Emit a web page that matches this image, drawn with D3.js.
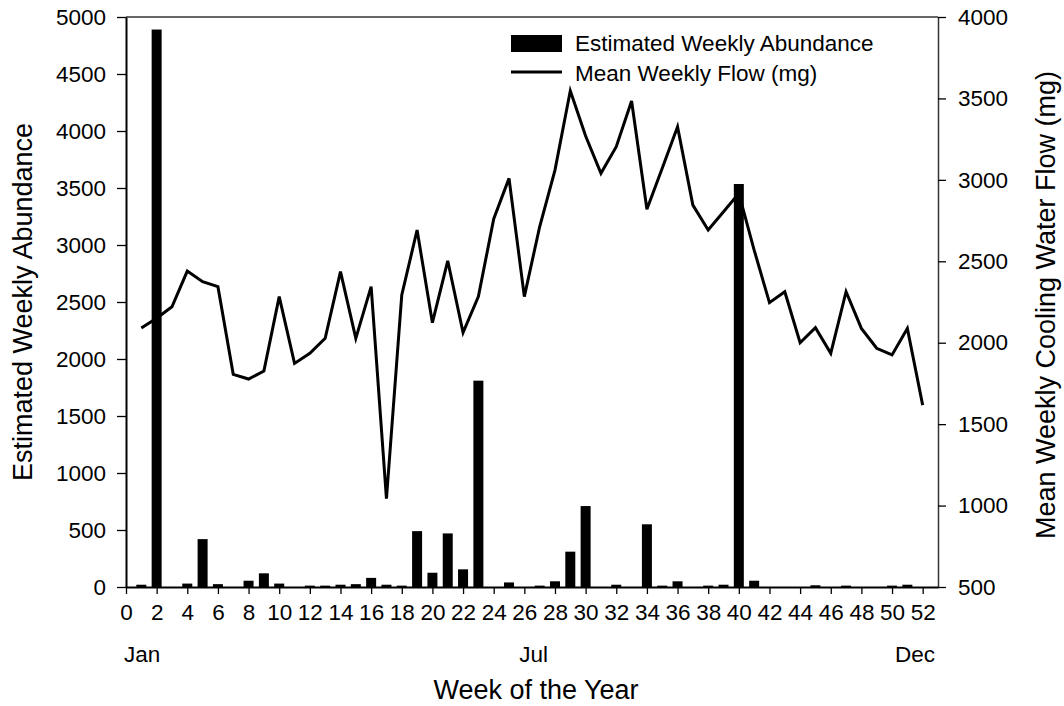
<!DOCTYPE html>
<html>
<head>
<meta charset="utf-8">
<script src="https://cdn.jsdelivr.net/npm/d3@7"></script>
<style>
  html, body { margin: 0; padding: 0; background: #fff; }
  svg { display: block; font-family: "Liberation Sans", Arial, sans-serif; }
</style>
</head>
<body>
<svg id="chart" width="1064" height="706"></svg>
<script>
const weeks = d3.range(1, 53);
const abundance = [20, 4890, 0, 30, 420, 25, 0, 55, 120, 30, 0, 12, 12, 20, 25, 80, 20, 12, 490, 125,
  470, 155, 1810, 0, 40, 0, 12, 50, 310, 710, 0, 20, 0, 550, 12, 50, 0, 12, 20, 3535,
  55, 0, 0, 0, 15, 0, 12, 0, 0, 12, 20, 0];
const flow = [2090, 2150, 2221, 2440, 2375, 2344, 1806, 1777, 1826, 2283, 1873, 1935, 2027, 2436, 2027, 2344,
  1042, 2293, 2692, 2123, 2503, 2062, 2283, 2760, 3009, 2283, 2712, 3060, 3547, 3269, 3040, 3204,
  3484, 2819, 3071, 3326, 2845, 2692, 2804, 2917, 2569, 2246, 2313, 2000, 2092, 1935, 2313, 2088,
  1966, 1925, 2088, 1617];
const xTicks = d3.range(0, 53, 2);
const leftTicks = d3.range(0, 5001, 500);
const rightTicks = d3.range(500, 4001, 500);
const monthLabels = [{label: "Jan", week: 1.05}, {label: "Jul", week: 26.6}, {label: "Dec", week: 51.5}];
const legendItems = ["Estimated Weekly Abundance", "Mean Weekly Flow (mg)"];

const svg = d3.select("#chart");
const L = 126, R = 938, T = 17, B = 587;
const x = d3.scaleLinear().domain([0, 53]).range([L, R]);
const yL = d3.scaleLinear().domain([0, 5000]).range([B, T]);
const yR = d3.scaleLinear().domain([500, 4000]).range([B, T]);
const fs = 22.5;
const tfs = 27;
const fmt = d3.format("d");

// bars
svg.append("g").selectAll("rect").data(weeks.filter((w, i) => abundance[i] > 0)).join("rect")
  .attr("x", w => x(w) - 5)
  .attr("width", 10)
  .attr("y", w => yL(abundance[w - 1]))
  .attr("height", w => B - yL(abundance[w - 1]))
  .attr("fill", "#000");

// line
const line = d3.line().x((d, i) => x(weeks[i])).y(d => yR(d));
svg.append("path").datum(flow).attr("d", line)
  .attr("fill", "none").attr("stroke", "#000").attr("stroke-width", 3).attr("stroke-linejoin", "miter");

// frame
svg.append("line").attr("x1", L).attr("x2", R).attr("y1", T).attr("y2", T).attr("stroke", "#333").attr("stroke-width", 1.5);

// axes
const gx = svg.append("g").attr("transform", `translate(0,${B})`)
  .call(d3.axisBottom(x).tickValues(xTicks).tickFormat(fmt).tickSize(7).tickPadding(10).tickSizeOuter(0));
const gl = svg.append("g").attr("transform", `translate(${L},0)`)
  .call(d3.axisLeft(yL).tickValues(leftTicks).tickFormat(fmt).tickSize(9).tickPadding(11).tickSizeOuter(0));
const gr = svg.append("g").attr("transform", `translate(${R},0)`)
  .call(d3.axisRight(yR).tickValues(rightTicks).tickFormat(fmt).tickSize(8).tickPadding(12).tickSizeOuter(0));
[gx, gl, gr].forEach(g => {
  g.selectAll("text").attr("font-size", fs).attr("fill", "#000");
  g.selectAll("line").attr("stroke", "#000").attr("stroke-width", 1.3);
  g.attr("font-family", null).attr("font-size", null);
});
gx.select(".domain").attr("stroke", "#000").attr("stroke-width", 2);
gl.select(".domain").attr("stroke", "#000").attr("stroke-width", 2);
gr.select(".domain").attr("stroke", "#333").attr("stroke-width", 1.5);

// month labels
svg.append("g").selectAll("text").data(monthLabels).join("text")
  .attr("x", d => x(d.week)).attr("y", 662).attr("text-anchor", "middle")
  .attr("font-size", fs).text(d => d.label);

// axis titles
svg.append("text").attr("x", 536).attr("y", 699).attr("text-anchor", "middle")
  .attr("font-size", tfs).text("Week of the Year");
svg.append("text").attr("transform", `translate(32,302) rotate(-90)`)
  .attr("text-anchor", "middle").attr("font-size", tfs).text("Estimated Weekly Abundance");
svg.append("text").attr("transform", `translate(1055,305) rotate(-90)`)
  .attr("text-anchor", "middle").attr("font-size", tfs).text("Mean Weekly Cooling Water Flow (mg)");

// legend
const lg = svg.append("g");
lg.append("rect").attr("x", 511).attr("y", 35).attr("width", 51).attr("height", 17).attr("fill", "#000");
lg.append("line").attr("x1", 511).attr("x2", 562).attr("y1", 72).attr("y2", 72).attr("stroke", "#000").attr("stroke-width", 3);
lg.selectAll("text").data(legendItems).join("text")
  .attr("x", 575).attr("y", (d, i) => 51 + i * 29.5).attr("font-size", fs).text(d => d);
</script>
</body>
</html>
